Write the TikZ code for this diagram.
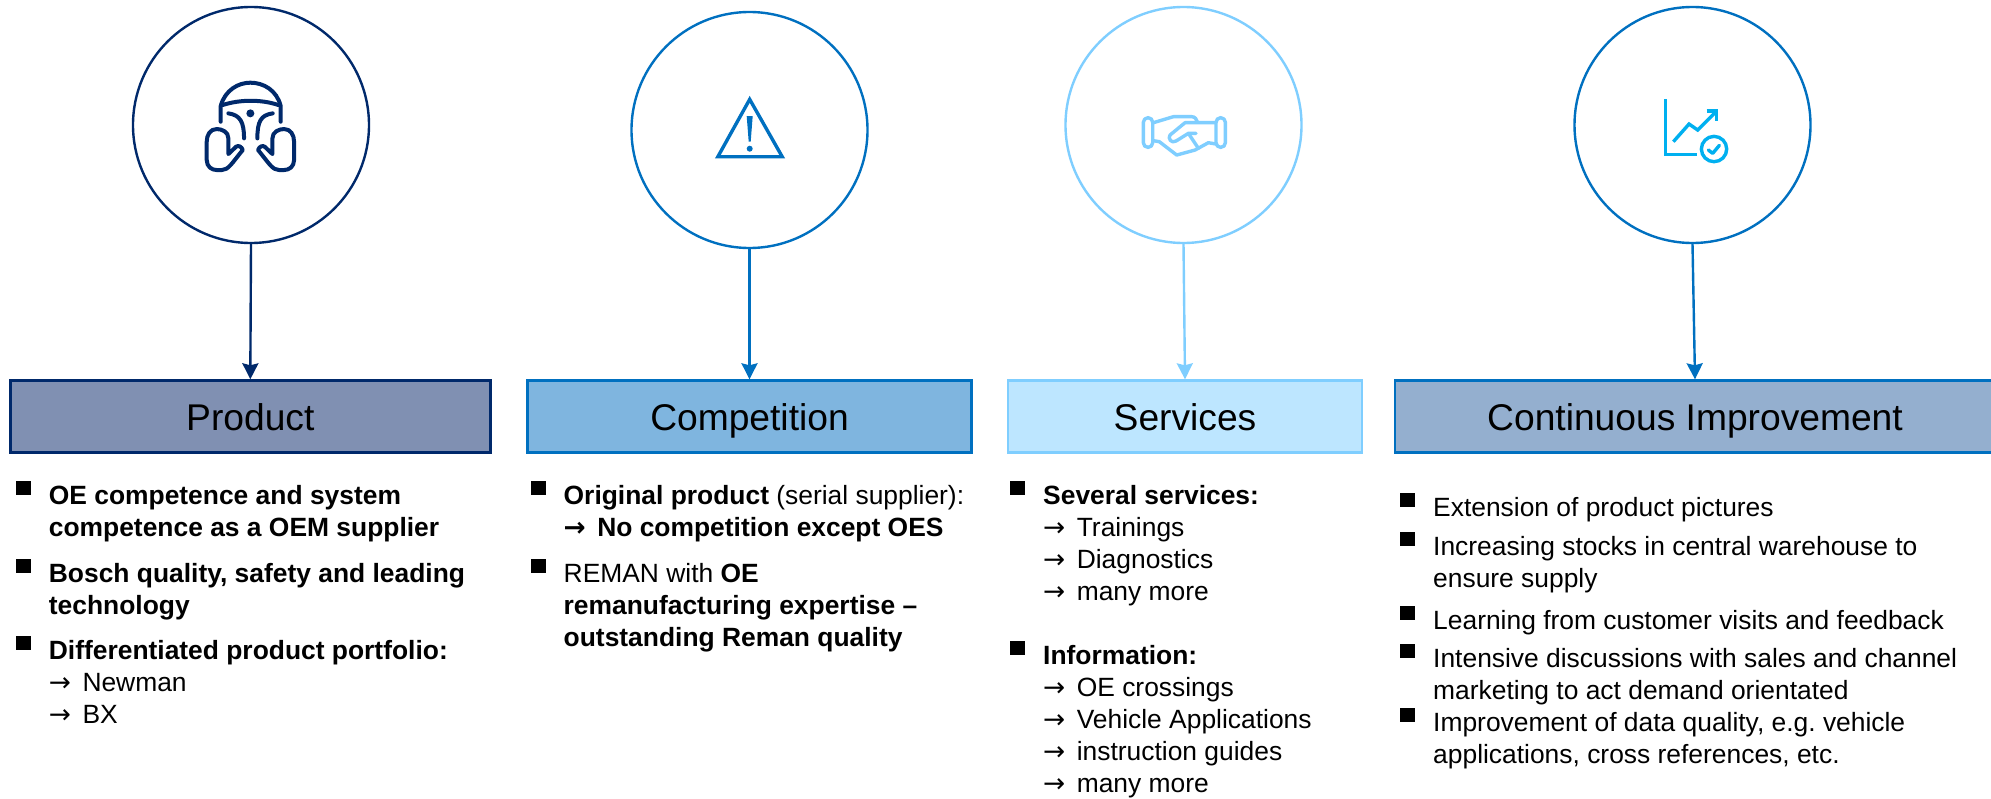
\documentclass[tikz,border=0pt]{standalone}
\usepackage{fontspec}
\setmainfont{Liberation Sans}
\newfontfamily\arrowfont{DejaVu Sans}
\usetikzlibrary{arrows.meta, positioning}

\definecolor{navyline}{HTML}{00296B}
\definecolor{navyfill}{HTML}{8090B2}
\definecolor{blueline}{HTML}{0070C0}
\definecolor{bluefill}{HTML}{7FB5DF}
\definecolor{skyline}{HTML}{7FCEFF}
\definecolor{skyfill}{HTML}{BDE6FF}
\definecolor{steelfill}{HTML}{94AFCF}
\definecolor{iconcyan}{HTML}{00B0F0}

\newcommand{\itemmark}{\strut\llap{\smash{\rule[5pt]{7.5pt}{7pt}}\hspace{9pt}}}
\newcommand{\toarrow}{\strut\makebox[16.8pt][l]{\arrowfont →}}

\begin{document}
\begin{tikzpicture}[
    x=0.5pt, y=-0.5pt,
    disc/.style={circle, draw=#1, fill=white, line width=1.2pt, inner sep=0pt, minimum size=118pt},
    headbox/.style 2 args={rectangle, draw=#1, fill=#2, line width=1.2pt, inner sep=0pt, minimum height=36pt, text height=16pt, text depth=2pt, font=\fontsize{18.6}{22}\selectfont},
    listtext/.style={align=left, inner sep=0pt, font=\fontsize{13.2}{16}\selectfont},
    icon/.style={draw=#1, line width=1.7pt, line cap=round, line join=round},
    >={Stealth[length=8pt, width=8pt, inset=1pt]}
    ]
    \useasboundingbox (0,0) rectangle (1991,798);

    \node[disc=navyline] (productdisc) at (251,125) {};
    \node[disc=blueline] (competitiondisc) at (749.5,130) {};
    \node[disc=skyline] (servicesdisc) at (1183.5,125) {};
    \node[disc=blueline] (improvedisc) at (1692.5,125) {};

    \node[headbox={navyline}{navyfill}, minimum width=240pt] (product) at (250.3,416.5) {Product};
    \node[headbox={blueline}{bluefill}, minimum width=222pt] (competition) at (749.5,416.5) {Competition};
    \node[headbox={skyline}{skyfill}, minimum width=177pt] (services) at (1185,416.5) {Services};
    \node[headbox={blueline}{steelfill}, minimum width=300pt] (improve) at (1695,416.5) {Continuous Improvement};

    \draw[->, navyline, line width=1.2pt] (productdisc.south) -- (product.north);
    \draw[->, blueline, line width=1.2pt] (competitiondisc.south) -- (competition.north);
    \draw[->, skyline, line width=1.2pt] (servicesdisc.south) -- (services.north);
    \draw[->, blueline, line width=1.2pt] (improvedisc.south) -- (improve.north);

    \node[listtext, below right=14.2pt and 19.7pt of product.south west] (productlist) {%
      \itemmark\textbf{OE competence and system}\\
      \strut\textbf{competence as a OEM supplier}\\[7pt]
      \itemmark\textbf{Bosch quality, safety and leading}\\
      \strut\textbf{technology}\\[6.5pt]
      \itemmark\textbf{Differentiated product portfolio:}\\
      \toarrow Newman\\
      \toarrow BX};
    \node[listtext, below right=14.2pt and 18.5pt of competition.south west] (competitionlist) {%
      \itemmark\textbf{Original product} (serial supplier):\\
      \textbf{\toarrow No competition except OES}\\[7pt]
      \itemmark REMAN with \textbf{OE}\\
      \strut\textbf{remanufacturing expertise –}\\
      \strut\textbf{outstanding Reman quality}};
    \node[listtext, below right=14.2pt and 18pt of services.south west] (serviceslist) {%
      \itemmark\textbf{Several services:}\\
      \toarrow Trainings\\
      \toarrow Diagnostics\\
      \toarrow many more\\[16pt]
      \itemmark\textbf{Information:}\\
      \toarrow OE crossings\\
      \toarrow Vehicle Applications\\
      \toarrow instruction guides\\
      \toarrow many more};
    \node[listtext, below right=20.2pt and 19.5pt of improve.south west] (improvelist) {%
      \itemmark Extension of product pictures\\[3.5pt]
      \itemmark Increasing stocks in central warehouse to\\
      \strut ensure supply\\[5pt]
      \itemmark Learning from customer visits and feedback\\[3pt]
      \itemmark Intensive discussions with sales and channel\\
      \strut marketing to act demand orientated\\
      \itemmark Improvement of data quality, e.g.\ vehicle\\
      \strut applications, cross references, etc.};

    % icons, drawn in the 3x crop grid
    \begin{scope}[shift={(50pt,0pt)}, x=0.1667pt, y=-0.1667pt, icon/.append style={line width=2pt}]
      \draw[icon=navyline] (362,365) -- (362,318) .. controls (375,270) and (415,248) .. (451,248) .. controls (490,248) and (530,270) .. (542,318) -- (542,365);
      \draw[icon=navyline] (368,315) .. controls (420,298) and (485,298) .. (535,315);
      \draw[icon=navyline] (385,340) .. controls (420,345) and (432,365) .. (432,415);
      \draw[icon=navyline] (518,340) .. controls (482,345) and (472,365) .. (472,415);
      \fill[navyline] (451,340) circle[radius=12];
      \foreach \s in {1,-1} {
        \begin{scope}[shift={(75.2pt,0pt)}, x=\s*0.1667pt]
          \draw[icon=navyline] (-66,462) -- (-66,415) .. controls (-66,395) and (-86,387) .. (-101,387) .. controls (-121,387) and (-131,405) .. (-131,425) -- (-131,480) .. controls (-131,500) and (-116,510) .. (-101,510) -- (-86,510) .. controls (-66,510) and (-56,490) .. (-23,450) .. controls (-26,440) and (-36,435) .. (-43,440) -- cycle;
        \end{scope}
      }
    \end{scope}

    \begin{scope}[shift={(310pt,0pt)}, x=0.1667pt, y=-0.1667pt]
      \draw[icon=blueline, line cap=butt, line join=miter] (389,298) -- (293.5,470) -- (486.5,470) -- cycle;
      \fill[blueline] (380,348) -- (398,348) -- (392,425) -- (386,425) -- cycle;
      \fill[blueline] (389,446) circle[radius=9];
    \end{scope}

    \begin{scope}[shift={(530pt,0pt)}, x=0.1667pt, y=-0.1667pt]
      \draw[icon=skyline, rounded corners=2.3pt] (250,353) rectangle (278,442);
      \draw[icon=skyline, rounded corners=2.3pt] (468,353) rectangle (496,442);
      \draw[icon=skyline] (280,368) -- (340,350) -- (395,350) .. controls (405,350) and (410,358) .. (412,366);
      \draw[icon=skyline] (468,368) -- (375,368) -- (330,405) .. controls (322,415) and (335,432) .. (348,423) -- (385,400) -- (408,400);
      \draw[icon=skyline] (385,400) -- (415,445);
      \draw[icon=skyline] (280,422) -- (298,425) -- (350,465) -- (405,450) -- (445,428) -- (468,432);
    \end{scope}

    \begin{scope}[shift={(780pt,0pt)}, x=0.1667pt, y=-0.1667pt]
      \draw[icon=iconcyan, line cap=butt, line join=miter] (317,297) -- (317,463) -- (410,463);
      \draw[icon=iconcyan, line cap=butt, line join=miter] (340,425) -- (387,372) -- (413,390) -- (468,335);
      \draw[icon=iconcyan, line cap=butt, line join=miter] (440,333) -- (470,333) -- (470,362);
      \draw[icon=iconcyan] (462,447) circle[radius=38];
      \draw[icon=iconcyan] (445,450) -- (458,460) -- (478,436);
    \end{scope}
  \end{tikzpicture}
\end{document}
